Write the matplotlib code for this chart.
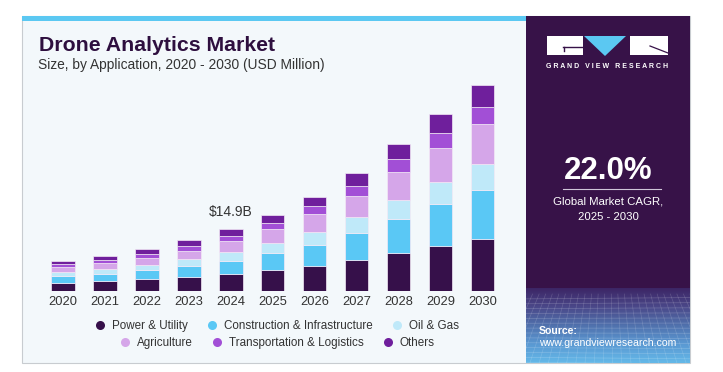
import numpy as np
import matplotlib
matplotlib.use('Agg')
import matplotlib.pyplot as plt
from matplotlib.patches import Rectangle, Polygon
from matplotlib.lines import Line2D
from matplotlib.colors import LinearSegmentedColormap

years = ['2020', '2021', '2022', '2023', '2024', '2025', '2026', '2027', '2028', '2029', '2030']

# USD million
power = [1930, 2340, 2830, 3310, 4030, 4930, 5970, 7410, 9180, 10870, 12410]
construction = [1620, 1760, 2100, 2660, 3210, 4110, 5140, 6520, 8070, 10000, 11830]
oil_gas = [970, 1130, 1280, 1620, 2030, 2420, 3070, 3790, 4730, 5460, 6420]
agriculture = [1210, 1450, 1760, 2080, 2660, 3380, 4270, 5220, 6760, 8140, 9590]
transport = [650, 720, 890, 1140, 1280, 1520, 2000, 2420, 2990, 3550, 4180]
others = [870, 1040, 1210, 1380, 1690, 1930, 2250, 2990, 3770, 4590, 5240]

series = [
    ('Power & Utility', power, '#36104a'),
    ('Construction & Infrastructure', construction, '#5ac8f5'),
    ('Oil & Gas', oil_gas, '#bfe9f9'),
    ('Agriculture', agriculture, '#d5a6e9'),
    ('Transportation & Logistics', transport, '#a24fd6'),
    ('Others', others, '#6f1f9c'),
]

W, H = 723, 372
fig = plt.figure(figsize=(W / 100, H / 100), dpi=100)
fig.patch.set_facecolor('white')


def fx(px):
    return px / W


def fy(py):
    return 1 - py / H


def box(x0, y0, x1, y1, **kw):
    # rectangle in pixel coords, origin top-left
    fig.patches.append(Rectangle((fx(x0), fy(y1)), fx(x1) - fx(x0), fy(y0) - fy(y1),
                                 transform=fig.transFigure, **kw))


# card
box(22, 16, 690, 363, facecolor='#f3f8fb', edgecolor='#c8ccd0', linewidth=0.8, zorder=-3)
box(22, 16, 527, 21, facecolor='#5bc8f2', edgecolor='none', zorder=-2)

# right panel
box(526, 16, 690, 363, facecolor='#371248', edgecolor='none', zorder=-2)
grad = LinearSegmentedColormap.from_list('g', ['#3c2464', '#4a4788', '#5070ac', '#5a98d2', '#64b8e8'])
gax = fig.add_axes([fx(526), fy(363), fx(690) - fx(526), fy(288) - fy(363)])
gax.set_zorder(1)
gax.imshow(np.linspace(0, 1, 100).reshape(-1, 1), aspect='auto', cmap=grad, origin='upper',
           extent=[0, 1, 1, 0])
# faint mesh
for k in range(1, 15):
    gax.plot([0, 1], [0.08 + k * 0.065, 0.06 + k * 0.068], color='white', alpha=0.2, lw=0.5)
for k in range(0, 26):
    xx = k / 25
    gax.plot([xx, 0.5 + (xx - 0.5) * 1.4], [0.08, 1], color='white', alpha=0.16, lw=0.5)
gax.set_xlim(0, 1)
gax.set_ylim(1, 0)
gax.axis('off')

# logo
box(547, 36, 583, 55, facecolor='white', edgecolor='none', zorder=3)
fig.lines.append(Line2D([fx(563), fx(584)], [fy(47), fy(47)], transform=fig.transFigure,
                        color='#371248', lw=1.0, zorder=4))
fig.lines.append(Line2D([fx(563.5), fx(563.5)], [fy(47), fy(51)], transform=fig.transFigure,
                        color='#371248', lw=1.0, zorder=4))
fig.patches.append(Polygon([(fx(584), fy(36)), (fx(626), fy(36)), (fx(605), fy(56))],
                           closed=True, transform=fig.transFigure, facecolor='#5bc8f2',
                           edgecolor='none', zorder=3))
box(630, 36, 668, 55, facecolor='white', edgecolor='none', zorder=3)
fig.lines.append(Line2D([fx(650), fx(668)], [fy(46), fy(53)], transform=fig.transFigure,
                        color='#371248', lw=0.9, zorder=4))
fig.text(fx(607.5), fy(66.5), 'G R A N D   V I E W   R E S E A R C H', color='white',
         fontsize=5.0, weight='bold', ha='center', va='center', family='Liberation Sans')

fig.text(fx(608), fy(171), '22.0%', color='white', fontsize=22.5, weight='bold',
         ha='center', va='center', family='Liberation Sans', zorder=5)
fig.lines.append(Line2D([fx(563), fx(661)], [fy(189), fy(189)], transform=fig.transFigure,
                        color='#cfc6d8', lw=0.8))
fig.text(fx(608), fy(201), 'Global Market CAGR,', color='white', fontsize=8.2,
         ha='center', va='center', family='Liberation Sans')
fig.text(fx(608), fy(216.5), '2025 - 2030', color='white', fontsize=8.2,
         ha='center', va='center', family='Liberation Sans')
fig.text(fx(539), fy(331.5), 'Source:', color='white', fontsize=7.6, weight='bold',
         ha='left', va='center', family='Liberation Sans', zorder=5)
fig.text(fx(539), fy(343.5), 'www.grandviewresearch.com', color='white', fontsize=7.6,
         ha='left', va='center', family='Liberation Sans', zorder=5)

# titles
fig.text(fx(39), fy(45.5), 'Drone Analytics Market', color='#2e0f3f', fontsize=15.3,
         weight='heavy', ha='left', va='center', family='Liberation Sans')
fig.text(fx(38.5), fy(65), 'Size, by Application, 2020 - 2030 (USD Million)', color='#333333',
         fontsize=9.9, ha='left', va='center', family='Liberation Sans')

# bars
step = 41.95
ax = fig.add_axes([fx(63 - step / 2), fy(290.7), 11 * step / W, (290.7 - 80) / H])
ax.set_zorder(2)
ax.set_facecolor('none')
x = np.arange(len(years))
bottom = np.zeros(len(years))
for name, vals, col in series:
    ax.bar(x, vals, width=0.56, bottom=bottom, color=col, edgecolor='#f3e9f6', linewidth=0.5,
           label=name)
    bottom += np.array(vals)
ax.set_xlim(-0.5, len(years) - 0.5)
ax.set_ylim(0, (290.7 - 80) * 241.5)
ax.set_xticks(x)
ax.set_xticklabels(years, fontsize=9.3, color='#333333', family='Liberation Sans')
ax.tick_params(axis='x', length=0, pad=4)
ax.set_yticks([])
for s in ax.spines.values():
    s.set_visible(False)
ax.text(4, bottom[4] + 2300, '$14.9B', ha='center', va='bottom', fontsize=10,
        color='#333333', family='Liberation Sans')

# legend, two centred rows
handles = [Line2D([], [], marker='o', ls='none', markersize=6.5, markerfacecolor=c,
                  markeredgecolor='none', label=n) for n, _, c in series]
for row, yy in [(0, 326), (1, 343)]:
    leg = fig.legend(handles=handles[row * 3:row * 3 + 3], ncol=3, loc='center',
                     bbox_to_anchor=(fx(276), fy(yy)), frameon=False, handletextpad=0.4,
                     columnspacing=1.4, handlelength=1.3,
                     prop={'family': 'Liberation Sans', 'size': 8.4})
    for t in leg.get_texts():
        t.set_color('#333333')

fig.savefig('out.png', dpi=100)
